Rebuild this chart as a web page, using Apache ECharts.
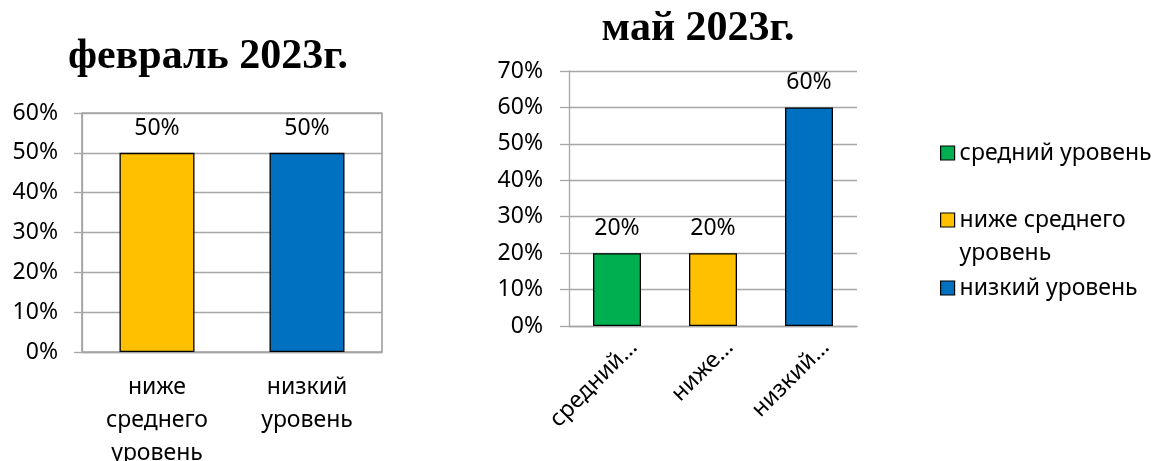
<!DOCTYPE html>
<html>
<head>
<meta charset="utf-8">
<script src="https://cdn.jsdelivr.net/npm/echarts@6/dist/echarts.min.js"></script>
<style>html,body{margin:0;padding:0;background:#fff}#c{width:1158px;height:461px}</style>
</head>
<body>
<div id="c"></div>
<script>
// data
const febTitle = 'февраль 2023г.';
const mayTitle = 'май 2023г.';
const febCategories = ['ниже среднего уровень', 'низкий уровень'];
const febValues = [50, 50];
const mayCategories = ['средний уровень', 'ниже среднего уровень', 'низкий уровень'];
const mayValues = [20, 20, 60];
const colorsByLevel = {'средний уровень': '#00B050', 'ниже среднего уровень': '#FFC000', 'низкий уровень': '#0070C0'};

const FONT = 'Noto Sans';
const fs = 23;
const gridColor = '#a6a6a6';

const chart = echarts.init(document.getElementById('c'), null, {renderer: 'canvas'});

const maySeries = mayCategories.map((name, i) => ({
  type: 'bar', name: name, xAxisIndex: 1, yAxisIndex: 1, stack: 'may', barWidth: '50%',
  data: mayValues.map((v, j) => j === i ? v : '-'),
  itemStyle: {color: colorsByLevel[name], borderColor: '#000', borderWidth: 1.3},
  label: {show: true, position: 'top', distance: 13, formatter: '{c}%', fontFamily: FONT, fontSize: fs, color: '#000'}
}));

function legendFor(name, top) {
  return {
    data: [name], left: 940, top: top, orient: 'vertical', padding: 0,
    icon: 'rect', itemWidth: 14, itemHeight: 14, selectedMode: false,
    itemStyle: {borderColor: '#000', borderWidth: 1.2},
    formatter: n => n === 'ниже среднего уровень' ? '\nниже среднего\nуровень' : n,
    textStyle: {fontFamily: FONT, fontSize: fs, color: '#000', lineHeight: 33}
  };
}

const option = {
  animation: false,
  title: [
    {text: febTitle, left: 203, top: 31, textAlign: 'center',
     textStyle: {fontFamily: 'Liberation Serif', fontWeight: 'bold', fontSize: 42, color: '#000'}},
    {text: mayTitle, left: 693, top: 3, textAlign: 'center',
     textStyle: {fontFamily: 'Liberation Serif', fontWeight: 'bold', fontSize: 42, color: '#000'}}
  ],
  legend: [
    legendFor(mayCategories[0], 136.5),
    legendFor(mayCategories[1], 170.5),
    legendFor(mayCategories[2], 271.5)
  ],
  grid: [
    {left: 82, right: 776, top: 113, bottom: 109, show: true, borderColor: '#7f7f7f', borderWidth: 1.2, outerBoundsMode: 'none', containLabel: false},
    {left: 569, right: 301, top: 71, bottom: 135, outerBoundsMode: 'none', containLabel: false}
  ],
  xAxis: [
    {type: 'category', gridIndex: 0, data: febCategories,
     axisLine: {lineStyle: {color: gridColor, width: 1.3}},
     axisTick: {length: 8, lineStyle: {color: gridColor, width: 1.3}},
     axisLabel: {fontFamily: FONT, fontSize: fs, color: '#000', lineHeight: 33, margin: 19,
       formatter: v => v === 'ниже среднего уровень' ? 'ниже\nсреднего\nуровень' : v.replace(' ', '\n')}},
    {type: 'category', gridIndex: 1, data: mayCategories,
     axisLine: {lineStyle: {color: gridColor, width: 1.3}},
     axisTick: {length: 8, lineStyle: {color: gridColor, width: 1.3}},
     axisLabel: {fontFamily: FONT, fontSize: fs, color: '#000', rotate: 45, margin: 18,
       align: 'right', verticalAlign: 'top', padding: [0, -12, 0, 0],
       formatter: v => v.split(' ')[0] + '…'}}
  ],
  yAxis: [
    {type: 'value', gridIndex: 0, min: 0, max: 60, interval: 10,
     axisLine: {show: true, lineStyle: {color: gridColor, width: 1.3}},
     axisTick: {show: true, length: 8, lineStyle: {color: gridColor, width: 1.3}},
     splitLine: {lineStyle: {color: gridColor, width: 1.3}},
     axisLabel: {formatter: '{value}%', fontFamily: FONT, fontSize: fs, color: '#000', margin: 24}},
    {type: 'value', gridIndex: 1, min: 0, max: 70, interval: 10,
     axisLine: {show: true, lineStyle: {color: gridColor, width: 1.3}},
     axisTick: {show: true, length: 9, lineStyle: {color: gridColor, width: 1.3}},
     splitLine: {lineStyle: {color: gridColor, width: 1.3}},
     axisLabel: {formatter: '{value}%', fontFamily: FONT, fontSize: fs, color: '#000', margin: 26}}
  ],
  series: [
    {type: 'bar', name: 'февраль', xAxisIndex: 0, yAxisIndex: 0, barWidth: '50%',
     data: febValues.map((v, i) => ({value: v, itemStyle: {color: colorsByLevel[febCategories[i]]}})),
     itemStyle: {borderColor: '#000', borderWidth: 1.3},
     label: {show: true, position: 'top', distance: 13, formatter: '{c}%', fontFamily: FONT, fontSize: fs, color: '#000'}}
  ].concat(maySeries)
};
chart.setOption(option);
</script>
</body>
</html>
